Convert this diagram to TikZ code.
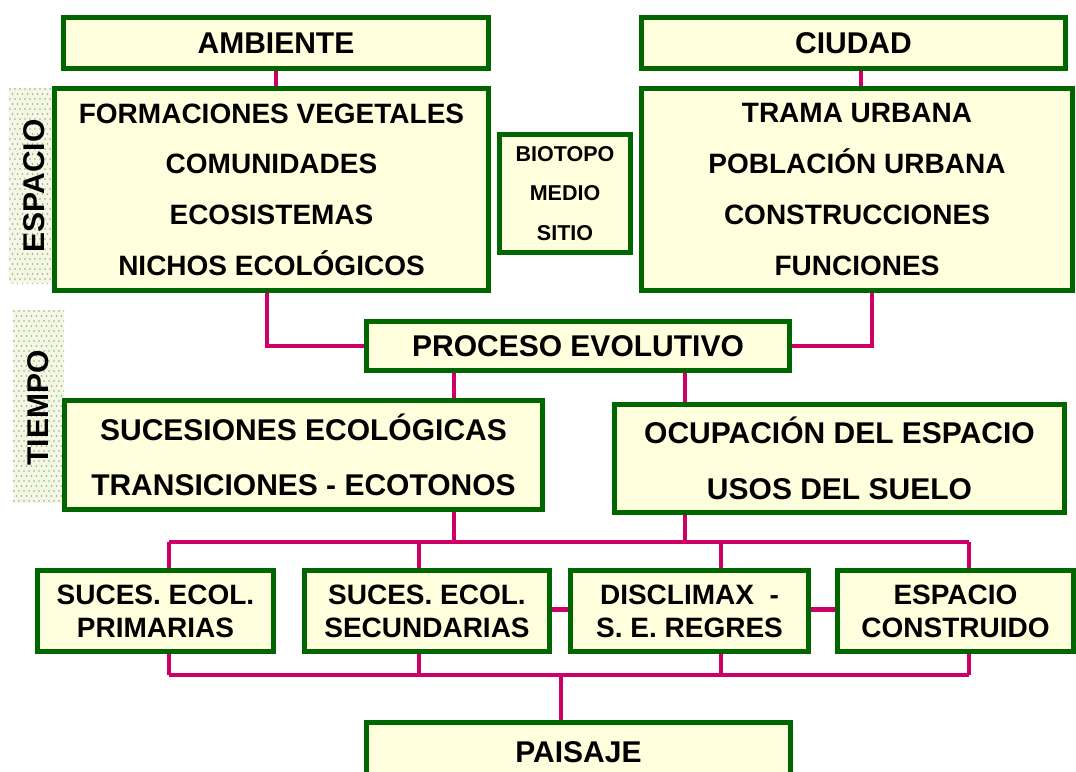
\documentclass[tikz,border=0pt]{standalone}
\usepackage{fontspec}
\setmainfont{Liberation Sans}
\definecolor{bgreen}{HTML}{006600}
\definecolor{bfill}{HTML}{FFFFDD}
\definecolor{cpink}{HTML}{CC0066}
\definecolor{stripbg}{HTML}{F2F8E2}
\definecolor{stripdot}{HTML}{A0A398}
\pgfdeclarelayer{bg}
\pgfsetlayers{bg,main}
\begin{document}
\begin{tikzpicture}[x=1pt,y=-1pt,
  box/.style={draw=bgreen, fill=bfill, line width=5pt, inner sep=0pt, align=center, text=black},
  conn/.style={draw=cpink, line width=3.5pt},
  fbig/.style={font=\bfseries\fontsize{30}{36}\selectfont},
  flist/.style={font=\bfseries\fontsize{28}{50.7}\selectfont},
  fsmall/.style={font=\bfseries\fontsize{21.5}{39.5}\selectfont},
  fmid/.style={font=\bfseries\fontsize{30}{55.5}\selectfont},
  fbot/.style={font=\bfseries\fontsize{28}{33}\selectfont},
  side/.style={font=\bfseries\fontsize{30}{36}\selectfont, rotate=90, text=black}]
\useasboundingbox (0,0) rectangle (1076,771);

% boxes
\node[box, fbig, minimum width=425pt, minimum height=51pt] (amb) at (276,43) {AMBIENTE};
\node[box, fbig, minimum width=424pt, minimum height=51pt] (ciu) at (853.5,43) {CIUDAD};
\node[box, flist, minimum width=434pt, minimum height=202pt] (esp1) at (271.5,189.5)
  {FORMACIONES VEGETALES\\COMUNIDADES\\ECOSISTEMAS\\NICHOS ECOLÓGICOS};
\node[box, flist, minimum width=431pt, minimum height=202pt] (urb) at (857,189.5)
  {TRAMA URBANA\\POBLACIÓN URBANA\\CONSTRUCCIONES\\FUNCIONES};
\node[box, fsmall, minimum width=131pt, minimum height=118pt] (bio) at (565,193.5)
  {BIOTOPO\\MEDIO\\SITIO};
\node[box, fbig, minimum width=423pt, minimum height=49pt] (proc) at (578,346) {PROCESO EVOLUTIVO};
\node[box, fmid, minimum width=478pt, minimum height=109pt] (suc) at (303.5,455)
  {SUCESIONES ECOLÓGICAS\\TRANSICIONES - ECOTONOS};
\node[box, fmid, minimum width=450pt, minimum height=108pt] (ocu) at (839.5,458.5)
  {OCUPACIÓN DEL ESPACIO\\USOS DEL SUELO};
\node[box, fbot, minimum width=236pt, minimum height=81pt] (b1) at (155.5,611) {SUCES. ECOL.\\PRIMARIAS};
\node[box, fbot, minimum width=245pt, minimum height=81pt] (b2) at (427,611) {SUCES. ECOL.\\SECUNDARIAS};
\node[box, fbot, minimum width=238pt, minimum height=81pt] (b3) at (689.5,611) {DISCLIMAX\ \ -\\S. E. REGRES};
\node[box, fbot, minimum width=236pt, minimum height=81pt] (b4) at (955.5,611) {ESPACIO\\CONSTRUIDO};
\node[box, fbig, minimum width=424pt, minimum height=60pt] (pai) at (578.5,752) {PAISAJE};

% bus coordinates
\coordinate (bus1) at (169,542);
\coordinate (bus2) at (419,542);
\coordinate (bus3) at (721,542);
\coordinate (bus4) at (969,542);
\coordinate (low1) at (169,675);
\coordinate (low2) at (419,675);
\coordinate (low3) at (721,675);
\coordinate (low4) at (969,675);
\coordinate (lowc) at (561,675);

\begin{pgfonlayer}{bg}
  \fill[white] (0,0) rectangle (1076,771);
  % dotted strips
  \begin{scope}
    \clip (9,88) rectangle (54,283);
    \fill[stripbg] (9,88) rectangle (54,283);
    \foreach \i in {0,...,9} \foreach \j in {0,...,39}
      \fill[stripdot] ({10+5*\i+2.5*mod(\j,2)},{89+5*\j}) circle (0.9);
  \end{scope}
  \begin{scope}
    \clip (13,310) rectangle (64,503);
    \fill[stripbg] (13,310) rectangle (64,503);
    \foreach \i in {0,...,10} \foreach \j in {0,...,39}
      \fill[stripdot] ({14+5*\i+2.5*mod(\j,2)},{311+5*\j}) circle (0.9);
  \end{scope}

  % connectors
  \draw[conn] (amb.south) -- (amb.south |- esp1.north);
  \draw[conn] ([xshift=7.5pt]ciu.south) -- ([xshift=7.5pt]ciu.south |- urb.north);
  \draw[conn] ([xshift=-4.5pt]esp1.south) |- (proc.west);
  \draw[conn] ([xshift=15pt]urb.south) |- (proc.east);
  \draw[conn] ([xshift=-124pt]proc.south) -- ([xshift=-124pt]proc.south |- suc.north);
  \draw[conn] ([xshift=107pt]proc.south) -- ([xshift=107pt]proc.south |- ocu.north);
  \draw[conn] ([xshift=150.5pt]suc.south) -- ([xshift=150.5pt]suc.south |- bus1);
  \draw[conn] ([xshift=-154.5pt]ocu.south) -- ([xshift=-154.5pt]ocu.south |- bus1);
  \draw[conn] (bus1) -- (bus4);
  \draw[conn] (bus1) -- (bus1 |- b1.north);
  \draw[conn] (bus2) -- (bus2 |- b2.north);
  \draw[conn] (bus3) -- (bus3 |- b3.north);
  \draw[conn] (bus4) -- (bus4 |- b4.north);
  \draw[conn] (low1) -- (low4);
  \draw[conn] (low1) -- (low1 |- b1.south);
  \draw[conn] (low2) -- (low2 |- b2.south);
  \draw[conn] (low3) -- (low3 |- b3.south);
  \draw[conn] (low4) -- (low4 |- b4.south);
  \draw[conn] (lowc) -- (lowc |- pai.north);
  \draw[conn, line width=5pt] ([yshift=2pt]b2.east) -- ([yshift=2pt]b3.west);
  \draw[conn, line width=5pt] ([yshift=2pt]b3.east) -- ([yshift=2pt]b4.west);
\end{pgfonlayer}

% side labels
\node[side] (esplab) at (34,186) {ESPACIO};
\node[side] (tielab) at (38,408) {TIEMPO};
\end{tikzpicture}
\end{document}
